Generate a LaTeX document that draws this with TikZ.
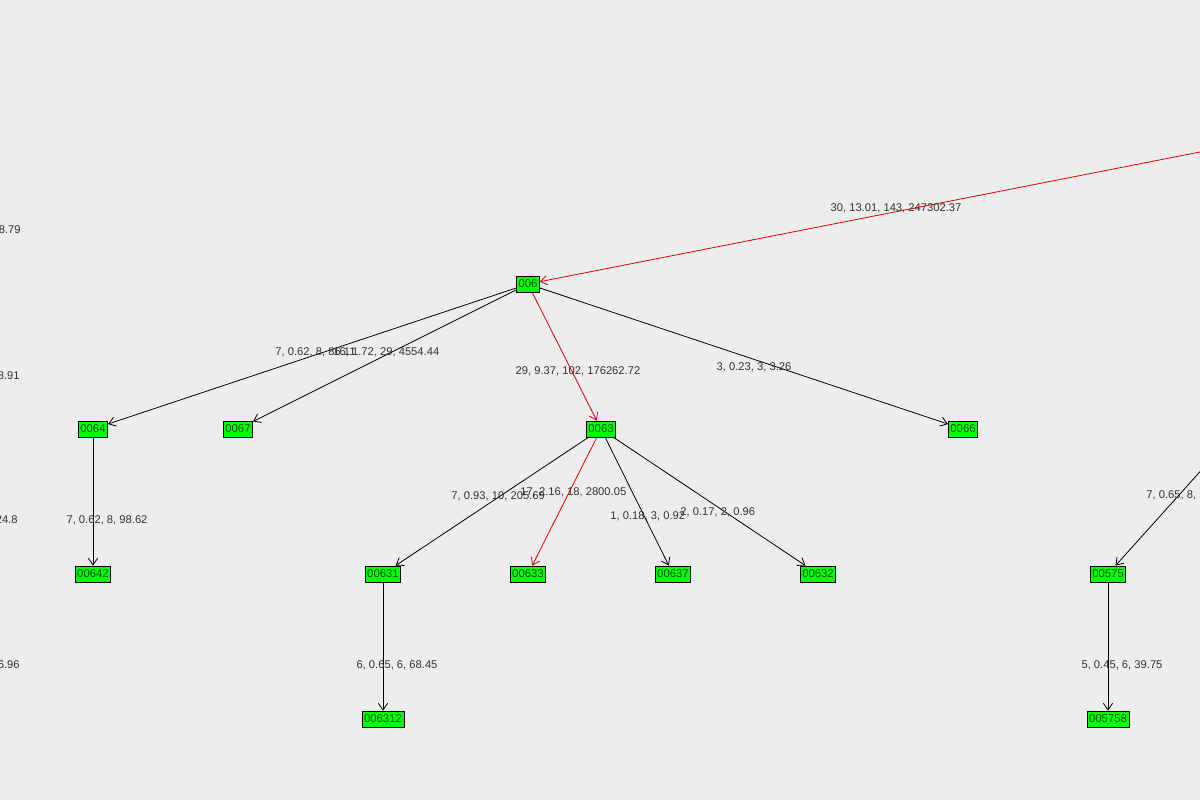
\documentclass[tikz,border=0pt]{standalone}
\usepackage{fontspec}
\setmainfont{Liberation Sans}
\usetikzlibrary{arrows.meta}
\begin{document}
\begin{tikzpicture}[x=0.75pt,y=-0.75pt,line width=0.6pt,
 nd/.style={draw=black,fill=green,inner sep=1.5pt,minimum height=12pt,text=black!70!green,font=\fontsize{8.5}{9}\selectfont},
 lb/.style={font=\fontsize{8.4}{9}\selectfont,text=black!80,inner sep=0pt},
 ed/.style={draw=black,-{Straight Barb[length=5pt,width=7pt]}},
 rd/.style={draw=red!90!black,-{Straight Barb[length=5pt,width=7pt]}}]
\fill[black!7] (0,0) rectangle (1200,800);
\useasboundingbox (0,0) rectangle (1200,800);
\begin{scope}
\clip (0,0) rectangle (1200,800);
\node[nd] (n006) at (528,284) {006};
\node[nd] (n0064) at (93,429) {0064};
\node[nd] (n0067) at (238,429) {0067};
\node[nd] (n0063) at (601,429) {0063};
\node[nd] (n0066) at (963,429) {0066};
\node[nd] (n00642) at (93,574) {00642};
\node[nd] (n00631) at (383,574) {00631};
\node[nd] (n00633) at (528,574) {00633};
\node[nd] (n00637) at (673,574) {00637};
\node[nd] (n00632) at (818,574) {00632};
\node[nd] (n00575) at (1108,574) {00575};
\node[nd] (n006312) at (383,719) {006312};
\node[nd] (n005758) at (1108,719) {005758};
\coordinate (tr) at (1205,151);
\coordinate (r2) at (1215,455);
\draw[rd] (tr) -- (n006);
\draw[ed] (n006) -- (n0064);
\draw[ed] (n006) -- (n0067);
\draw[rd] (n006) -- (n0063);
\draw[ed] (n006) -- (n0066);
\draw[ed] (n0064) -- (n00642);
\draw[ed] (n0063) -- (n00631);
\draw[rd] (n0063) -- (n00633);
\draw[ed] (n0063) -- (n00637);
\draw[ed] (n0063) -- (n00632);
\draw[ed] (n00631) -- (n006312);
\draw[ed] (r2) -- (n00575);
\draw[ed] (n00575) -- (n005758);
\node[lb] (l1) at (896,208) {30, 13.01, 143, 247302.37};
\node[lb] (l2) at (578,371) {29, 9.37, 102, 176262.72};
\node[lb] (l3) at (754,367) {3, 0.23, 3, 3.26};
\node[lb,anchor=west] (l4) at (275,352) {7, 0.62, 8, 86.11};
\node[lb,anchor=west] (l5) at (333,352) {16, 1.72, 29, 4554.44};
\node[lb] (l6) at (107,520) {7, 0.62, 8, 98.62};
\node[lb,anchor=west] (l7) at (451,496) {7, 0.93, 10, 205.69};
\node[lb,anchor=west] (l8) at (520,492) {17, 2.16, 18, 2800.05};
\node[lb,anchor=west] (l9) at (610,516) {1, 0.18, 3, 0.92};
\node[lb,anchor=west] (l10) at (680,512) {2, 0.17, 2, 0.96};
\node[lb] (l11) at (397,665) {6, 0.65, 6, 68.45};
\node[lb] (l12) at (1122,665) {5, 0.45, 6, 39.75};
\node[lb,anchor=west] (l13) at (1146,495) {7, 0.65, 8, 55.55};
\node[lb,anchor=east] (e1) at (21,230) {12, 1.01, 13, 128.79};
\node[lb,anchor=east] (e2) at (20,376) {12, 1.01, 13, 128.91};
\node[lb,anchor=east] (e3) at (18,520) {12, 1.01, 13, 124.8};
\node[lb,anchor=east] (e4) at (20,665) {12, 1.01, 13, 126.96};
\end{scope}
\end{tikzpicture}
\end{document}
